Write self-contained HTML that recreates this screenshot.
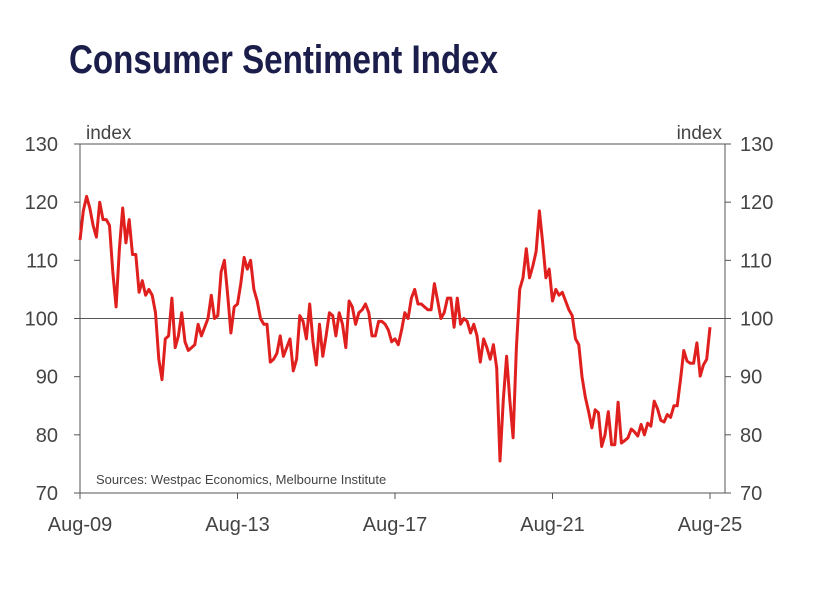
<!DOCTYPE html>
<html><head><meta charset="utf-8"><style>
html,body{margin:0;padding:0;background:#fff;}
svg{display:block;font-family:"Liberation Sans",sans-serif;}
</style></head><body>
<svg id="chart" width="817" height="606" viewBox="0 0 817 606">
<text x="69" y="73" font-family="'Liberation Sans Narrow','Liberation Sans',sans-serif" font-weight="bold" font-size="40" fill="#1b1d4a" textLength="429" lengthAdjust="spacingAndGlyphs">Consumer Sentiment Index</text>
<rect x="80" y="144" width="645" height="349" fill="none" stroke="#555" stroke-width="1"/>
<g id="axes"></g>
<path id="line" fill="none" stroke="#e0201e" stroke-width="3" stroke-linejoin="round"/>
<text x="86" y="139" font-size="19" fill="#444">index</text>
<text x="722" y="139" font-size="19" fill="#444" text-anchor="end">index</text>
<text x="96" y="484" font-size="13" fill="#444">Sources: Westpac Economics, Melbourne Institute</text>
</svg>
<script>
const values=[113.5,118.5,121,119,116,114,120,117,117,116,108,102,112,119,113,117,111,111,104.5,106.5,104,105,104,101,93,89.5,96.5,97,103.5,95,97,101,96,94.5,95,95.5,99,97,98.5,100,104,100,100.5,108,110,104,97.5,102,102.5,106,110.5,108.5,110,105,103,100,99,99,92.5,93,94,97,93.5,95,96.5,91,93,100.5,99.5,96.5,102.5,96,92,99,93.5,97,101,100.5,97,101,99,95,103,102,99,101,101.5,102.5,101,97,97,99.5,99.5,99,98,96,96.5,95.5,98,101,100,103.5,105,102.5,102.5,102,101.5,101.5,106,103,100,101,103.5,103.5,98.5,103.5,99,100,99.5,97.5,99,97,92.5,96.5,95,93,95.5,91.5,75.5,86,93.5,86,79.5,95,105,107,112,107,109,111.5,118.5,113,107,108.5,103,105,104,104.5,103,101.5,100.5,96.5,95.5,90,86.5,84,81.2,84.3,83.8,78,80,84,78.3,78.3,85.6,78.6,79,79.5,81,80.5,79.8,81.8,80,82,81.5,85.8,84.5,82.5,82.2,83.5,83,85,85,89.5,94.5,92.7,92.3,92.3,95.8,90.1,92,93,98.5];
const yTicks=[70,80,90,100,110,120,130];
const xTickLabels=["Aug-09","Aug-13","Aug-17","Aug-21","Aug-25"];
const xTickMonths=[0,48,96,144,192];
const NS="http://www.w3.org/2000/svg";
const x0=80,x1=710,yTop=144,yBot=493,vMin=70,vMax=130;
function xs(i){return x0+(x1-x0)*i/192;}
function ys(v){return yBot-(v-vMin)/(vMax-vMin)*(yBot-yTop);}
const axes=document.getElementById('axes');
function mk(tag,attrs,txt){const e=document.createElementNS(NS,tag);for(const k in attrs)e.setAttribute(k,attrs[k]);if(txt!==undefined)e.textContent=txt;axes.appendChild(e);return e;}
yTicks.forEach(v=>{
  const y=ys(v);
  const t1=mk('line',{x1:74,x2:80,y1:y,y2:y,stroke:'#555'});
  
  
  const t2=mk('line',{x1:725,x2:731,y1:y,y2:y,stroke:'#555'});
  
  
  const l1=mk('text',{x:58,y:y+7,'font-size':20,fill:'#444','text-anchor':'end'},String(v));
  
  
  const l2=mk('text',{x:740,y:y+7,'font-size':20,fill:'#444'},String(v));
  
  
  if(v===100){
    const g=mk('line',{x1:80,x2:725,y1:y,y2:y,stroke:'#555','stroke-width':1});
    
    
  }
});
xTickMonths.forEach((m,i)=>{
  const x=xs(m);
  const t=mk('line',{x1:x,x2:x,y1:493,y2:499,stroke:'#555'});
  
  
  const l=mk('text',{x:x,y:531,'font-size':20,fill:'#444','text-anchor':'middle'},xTickLabels[i]);
  
  
});
document.getElementById('line').setAttribute('d',values.map((v,i)=>(i?'L':'M')+xs(i).toFixed(1)+','+ys(v).toFixed(1)).join(''));
</script>
</body></html>
